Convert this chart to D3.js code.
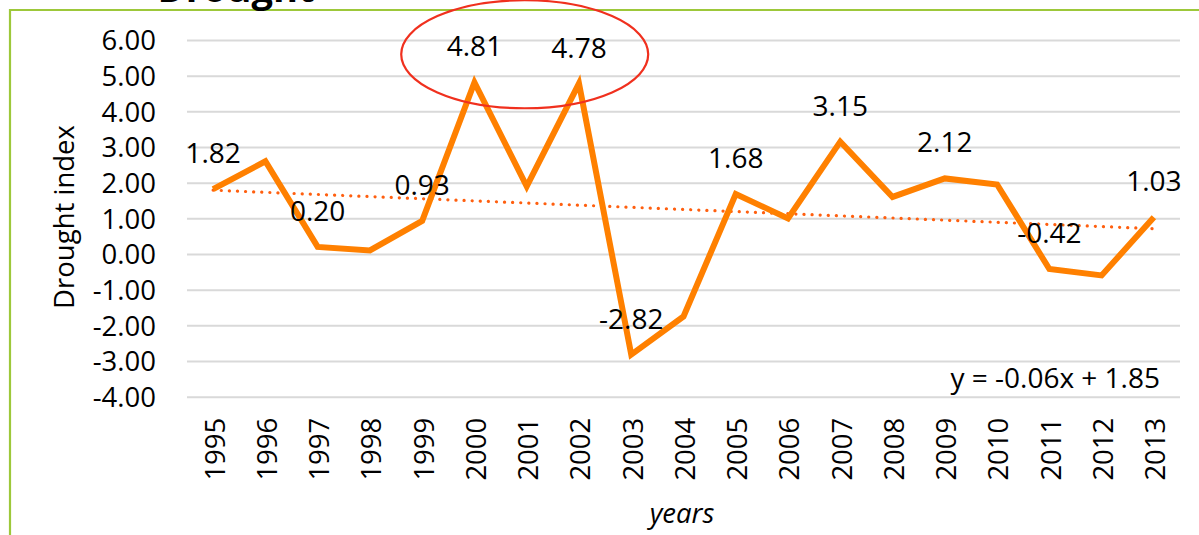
<!DOCTYPE html>
<html>
<head>
<meta charset="utf-8">
<script src="https://cdn.jsdelivr.net/npm/d3@7"></script>
<style>
html,body{margin:0;padding:0;background:#fff;}
svg{display:block;}
text{font-family:"Open Sans",sans-serif;fill:#000;}
</style>
</head>
<body>
<svg id="chart" width="1199" height="535"></svg>
<script>
const years = [1995,1996,1997,1998,1999,2000,2001,2002,2003,2004,2005,2006,2007,2008,2009,2010,2011,2012,2013];
const droughtIndex = [1.82,2.60,0.20,0.10,0.93,4.81,1.90,4.78,-2.82,-1.75,1.68,1.00,3.15,1.60,2.12,1.95,-0.42,-0.60,1.03];
const labelledYears = [1995,1997,1999,2000,2002,2003,2005,2007,2009,2011,2013];
const yTicks = [-4,-3,-2,-1,0,1,2,3,4,5,6];
const trendSlope = -0.06, trendIntercept = 1.85;
const trendText = "y = -0.06x + 1.85";
const titleText = "Drought";
const yTitle = "Drought index";
const xTitle = "years";

const svg = d3.select("#chart");
const plotLeft = 187, plotRight = 1180, plotTop = 40, plotBottom = 396.7;
const fmt = v => v.toFixed(2);

const x = d3.scalePoint().domain(years).range([plotLeft, plotRight]).padding(0.5);
const y = d3.scaleLinear().domain([-4, 6]).range([plotBottom, plotTop]);

// border
svg.append("path")
  .attr("d", `M10,535 L10,10 L1199,10`)
  .attr("fill", "none").attr("stroke", "#9DC83A").attr("stroke-width", 2.2);

// title (cut off at the top, as in the reference)
svg.append("text").attr("x", 236).attr("y", 2).attr("text-anchor", "middle")
  .style("font-size", "38px").style("font-weight", "bold").text(titleText);

// y axis with gridlines
const yAxis = d3.axisLeft(y).tickValues(yTicks).tickSize(-(plotRight - plotLeft)).tickPadding(31)
  .tickFormat(fmt);
const gy = svg.append("g").attr("transform", `translate(${plotLeft},0)`).call(yAxis);
gy.select(".domain").remove();
gy.selectAll(".tick line").attr("stroke", "#D9D9D9").attr("stroke-width", 2);
gy.selectAll(".tick text").style("font-size", "27.5px").style("font-family", "'Open Sans',sans-serif")
  .attr("fill", "#000").attr("dy", "0.36em");

// x axis labels
const xAxis = d3.axisBottom(x).tickSize(0).tickPadding(0);
const gx = svg.append("g").attr("transform", `translate(0,${plotBottom})`).call(xAxis);
gx.select(".domain").remove();
gx.selectAll(".tick text")
  .style("font-size", "27.5px").style("font-family", "'Open Sans',sans-serif").attr("fill", "#000")
  .attr("text-anchor", "end")
  .attr("transform", "translate(1,21) rotate(-90)")
  .attr("x", 0).attr("y", 0).attr("dy", "0.36em");

// trendline
const n = years.length;
svg.append("line")
  .attr("x1", x(years[0])).attr("y1", y(trendSlope * 1 + trendIntercept))
  .attr("x2", x(years[n - 1])).attr("y2", y(trendSlope * n + trendIntercept))
  .attr("stroke", "#FF5F0F").attr("stroke-width", 3.2)
  .attr("stroke-linecap", "round").attr("stroke-dasharray", "0.1,8");

// data line
const line = d3.line().x((d, i) => x(years[i])).y(d => y(d));
svg.append("path").datum(droughtIndex).attr("d", line)
  .attr("fill", "none").attr("stroke", "#FF8000").attr("stroke-width", 6)
  .attr("stroke-linejoin", "miter");

// data labels
svg.append("g").selectAll("text")
  .data(years.map((yr, i) => ({yr, v: droughtIndex[i]})).filter(d => labelledYears.includes(d.yr)))
  .join("text")
  .attr("x", d => x(d.yr)).attr("y", d => y(d.v) - 26)
  .attr("text-anchor", "middle").style("font-size", "28px")
  .text(d => fmt(d.v));

// trend equation
svg.append("text").attr("x", 1160).attr("y", 388).attr("text-anchor", "end")
  .style("font-size", "28px").text(trendText);

// axis titles
svg.append("text").attr("transform", `translate(74,217) rotate(-90)`)
  .attr("text-anchor", "middle").style("font-size", "27.5px").text(yTitle);
svg.append("text").attr("x", 682).attr("y", 523).attr("text-anchor", "middle")
  .style("font-size", "27.5px").style("font-style", "italic").text(xTitle);

// highlight ellipse around 2000-2002 peaks
svg.append("ellipse")
  .attr("cx", (x(2000) + x(2002)) / 2 - 2).attr("cy", y(5.6))
  .attr("rx", 123.5).attr("ry", 54)
  .attr("fill", "none").attr("stroke", "#F0301E").attr("stroke-width", 2.2);
</script>
</body>
</html>
